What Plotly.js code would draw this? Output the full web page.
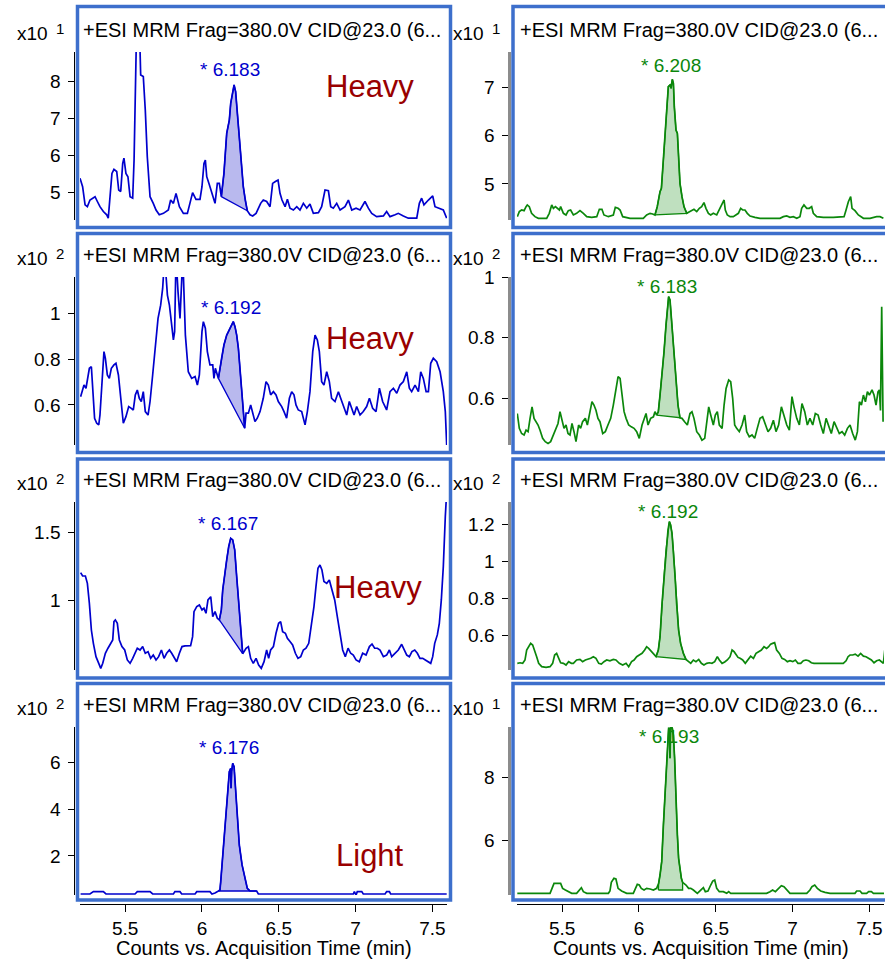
<!DOCTYPE html>
<html><head><meta charset="utf-8">
<script src="https://cdn.plot.ly/plotly-3.0.1.min.js"></script>
<style>html,body{margin:0;padding:0;background:#fff;}#chart{width:885px;height:960px;}</style>
</head><body><div id="chart"></div>
<script>
// ---------------- DATA (time in min, intensity in axis units x10^exp) ----------------
const tL1 = [5.206,5.223,5.239,5.254,5.271,5.288,5.304,5.319,5.336,5.358,
5.380,5.390,5.401,5.414,5.427,5.445,5.458,5.471,5.484,5.492,
5.505,5.518,5.532,5.549,5.558,5.571,5.575,5.592,5.601,5.618,
5.631,5.644,5.662,5.683,5.701,5.722,5.749,5.781,5.796,5.814,
5.831,5.853,5.879,5.905,5.926,5.939,5.961,5.987,6.000,6.013,
6.022,6.031,6.048,6.070,6.085,6.100,6.113,6.126,6.143,6.161,
6.178,6.187,6.198,6.209,6.219,6.230,6.243,6.256,6.269,6.282,
6.295,6.313,6.330,6.352,6.367,6.382,6.399,6.421,6.443,6.460,
6.478,6.495,6.508,6.521,6.541,6.556,6.573,6.595,6.617,6.638,
6.660,6.682,6.703,6.725,6.758,6.779,6.801,6.823,6.838,6.855,
6.877,6.899,6.931,6.953,6.975,7.003,7.029,7.061,7.083,7.105,
7.137,7.181,7.202,7.224,7.257,7.278,7.311,7.343,7.398,7.415,
7.430,7.445,7.474,7.502,7.517,7.539,7.571,7.593];
const iL1 = [5.39,5.16,4.67,4.62,4.80,4.85,4.89,4.76,4.62,4.49,
4.40,4.31,4.89,5.52,5.63,5.57,5.07,5.03,5.79,5.93,
5.52,5.43,4.89,4.85,5.88,8.41,9.6,9.6,8.18,8.14,
7.23,5.97,4.89,4.71,4.53,4.40,4.44,4.53,4.80,4.71,
4.98,4.62,4.44,4.44,4.80,5.00,4.82,4.82,5.16,5.79,
5.88,5.43,5.21,4.89,4.71,5.25,5.25,4.89,5.52,6.60,
6.96,7.41,7.68,7.91,7.73,7.14,6.42,5.70,5.16,4.80,
4.51,4.40,4.37,4.44,4.58,4.71,4.80,4.76,4.62,5.25,
5.30,5.34,4.98,4.80,4.62,4.82,4.58,4.53,4.62,4.53,
4.71,4.58,4.69,4.44,4.46,4.62,5.07,5.05,4.62,4.58,
4.71,4.53,4.62,4.80,4.53,4.58,4.53,4.76,4.58,4.44,
4.35,4.37,4.49,4.35,4.40,4.44,4.37,4.31,4.31,4.71,
4.85,4.67,4.80,4.91,4.62,4.58,4.53,4.31];
const baseTL1 = [6.126, 6.295], baseIL1 = [4.89, 4.51];

const tR1 = [5.208,5.221,5.236,5.252,5.265,5.273,5.286,5.301,5.323,5.345,
5.399,5.416,5.432,5.443,5.456,5.469,5.482,5.490,5.508,5.525,
5.540,5.555,5.573,5.594,5.616,5.638,5.660,5.692,5.725,5.742,
5.759,5.772,5.801,5.833,5.846,5.864,5.877,5.894,5.920,5.942,
5.985,6.028,6.050,6.072,6.089,6.104,6.119,6.137,6.146,6.159,
6.169,6.180,6.191,6.202,6.209,6.217,6.224,6.230,6.241,6.250,
6.258,6.267,6.280,6.293,6.311,6.328,6.343,6.358,6.376,6.393,
6.408,6.423,6.436,6.452,6.467,6.484,6.506,6.528,6.545,6.554,
6.562,6.575,6.593,6.614,6.647,6.662,6.675,6.690,6.705,6.723,
6.755,6.788,6.831,6.875,6.918,6.940,6.962,6.983,7.005,7.027,
7.048,7.059,7.074,7.092,7.109,7.124,7.135,7.157,7.200,7.265,
7.309,7.335,7.348,7.363,7.378,7.387,7.406,7.428,7.461,7.504,
7.547,7.569,7.591];
const iR1 = [4.324,4.428,4.462,4.448,4.531,4.566,4.531,4.393,4.324,4.290,
4.290,4.393,4.566,4.497,4.531,4.497,4.462,4.531,4.393,4.359,
4.448,4.462,4.359,4.393,4.448,4.393,4.324,4.310,4.324,4.476,
4.476,4.359,4.324,4.359,4.517,4.497,4.462,4.324,4.310,4.290,
4.290,4.290,4.359,4.393,4.379,4.359,4.531,4.841,4.910,5.497,
6.048,6.531,7.014,7.048,6.979,7.166,7.083,6.600,6.117,6.048,
5.566,5.014,4.738,4.531,4.393,4.428,4.448,4.476,4.428,4.497,
4.531,4.614,4.497,4.393,4.359,4.393,4.359,4.497,4.634,4.669,
4.462,4.359,4.324,4.324,4.393,4.497,4.462,4.462,4.393,4.338,
4.310,4.290,4.290,4.290,4.290,4.324,4.338,4.310,4.324,4.290,
4.324,4.497,4.566,4.497,4.497,4.531,4.393,4.324,4.310,4.310,
4.310,4.324,4.462,4.634,4.738,4.497,4.448,4.359,4.290,4.290,
4.324,4.324,4.290];
const baseTR1 = [6.104, 6.311], baseIR1 = [4.359, 4.393];

const tL2 = [5.210,5.223,5.232,5.245,5.254,5.267,5.280,5.288,5.301,5.315,
5.328,5.336,5.349,5.362,5.371,5.384,5.397,5.410,5.427,5.440,
5.456,5.471,5.488,5.505,5.523,5.540,5.553,5.566,5.579,5.592,
5.605,5.618,5.631,5.649,5.662,5.679,5.696,5.714,5.731,5.744,
5.757,5.775,5.788,5.801,5.814,5.822,5.831,5.844,5.857,5.875,
5.892,5.911,5.933,5.955,5.970,5.983,6.000,6.009,6.022,6.035,
6.052,6.070,6.078,6.087,6.096,6.107,6.128,6.143,6.161,6.183,
6.204,6.215,6.226,6.237,6.248,6.258,6.269,6.278,6.287,6.302,
6.317,6.330,6.345,6.360,6.378,6.399,6.417,6.432,6.447,6.465,
6.482,6.497,6.519,6.534,6.551,6.569,6.584,6.599,6.612,6.627,
6.649,6.671,6.686,6.703,6.721,6.736,6.751,6.764,6.779,6.794,
6.812,6.829,6.844,6.866,6.888,6.903,6.920,6.942,6.959,6.975,
6.990,7.007,7.029,7.050,7.072,7.090,7.111,7.133,7.155,7.176,
7.202,7.224,7.246,7.268,7.289,7.311,7.333,7.350,7.365,7.387,
7.409,7.424,7.441,7.459,7.474,7.489,7.506,7.528,7.550,7.571,
7.584,7.593];
const iL2 = [0.636,0.673,0.687,0.673,0.702,0.760,0.767,0.687,0.542,0.520,
0.513,0.556,0.687,0.833,0.804,0.731,0.716,0.760,0.775,0.782,
0.731,0.644,0.520,0.549,0.593,0.585,0.578,0.644,0.665,0.629,
0.615,0.658,0.571,0.556,0.615,0.731,0.862,0.978,1.036,1.109,
1.25,1.080,1.036,0.964,0.884,0.920,1.25,1.095,0.978,1.25,
0.905,0.745,0.716,0.724,0.687,0.731,0.920,0.964,0.935,0.833,
0.775,0.775,0.716,0.760,0.738,0.716,0.804,0.862,0.905,0.935,
0.964,0.942,0.905,0.847,0.760,0.687,0.564,0.498,0.564,0.564,
0.600,0.571,0.527,0.542,0.571,0.629,0.702,0.687,0.644,0.658,
0.644,0.615,0.593,0.571,0.542,0.629,0.658,0.644,0.600,0.578,
0.571,0.513,0.571,0.658,0.833,0.905,0.884,0.833,0.702,0.687,
0.745,0.702,0.629,0.615,0.658,0.629,0.600,0.556,0.615,0.585,
0.556,0.593,0.556,0.571,0.593,0.629,0.585,0.571,0.673,0.615,
0.578,0.658,0.673,0.651,0.687,0.702,0.745,0.673,0.658,0.687,
0.658,0.745,0.716,0.658,0.658,0.782,0.804,0.789,0.745,0.658,
0.571,0.425];
const baseTL2 = [6.107, 6.278], baseIL2 = [0.716, 0.498];

const tR2 = [5.208,5.221,5.236,5.252,5.265,5.278,5.291,5.304,5.317,5.330,
5.343,5.356,5.373,5.390,5.408,5.425,5.443,5.460,5.473,5.486,
5.499,5.512,5.525,5.538,5.551,5.564,5.577,5.590,5.607,5.620,
5.633,5.651,5.664,5.681,5.694,5.707,5.720,5.733,5.746,5.764,
5.781,5.798,5.816,5.833,5.850,5.864,5.877,5.890,5.903,5.916,
5.933,5.950,5.968,5.985,6.002,6.020,6.033,6.046,6.059,6.076,
6.094,6.104,6.115,6.126,6.137,6.150,6.163,6.176,6.185,6.193,
6.202,6.211,6.219,6.228,6.241,6.254,6.267,6.280,6.297,6.315,
6.332,6.345,6.358,6.376,6.393,6.410,6.428,6.441,6.454,6.467,
6.484,6.497,6.510,6.523,6.541,6.554,6.567,6.584,6.597,6.610,
6.623,6.636,6.653,6.671,6.688,6.701,6.718,6.736,6.753,6.770,
6.788,6.805,6.823,6.840,6.857,6.875,6.892,6.909,6.927,6.944,
6.962,6.979,6.996,7.009,7.027,7.044,7.061,7.079,7.096,7.113,
7.131,7.148,7.166,7.183,7.200,7.218,7.235,7.252,7.270,7.287,
7.304,7.322,7.339,7.357,7.374,7.391,7.408,7.422,7.435,7.448,
7.461,7.474,7.487,7.500,7.517,7.530,7.543,7.556,7.565,7.572,
7.580,7.589];
const iR2 = [0.550,0.501,0.484,0.479,0.495,0.490,0.534,0.572,0.534,0.523,
0.512,0.495,0.468,0.457,0.451,0.457,0.479,0.495,0.517,0.556,
0.523,0.501,0.512,0.484,0.479,0.517,0.490,0.457,0.512,0.501,
0.523,0.534,0.512,0.556,0.589,0.578,0.561,0.534,0.523,0.484,
0.490,0.512,0.534,0.578,0.633,0.672,0.666,0.600,0.556,0.534,
0.512,0.506,0.501,0.490,0.468,0.512,0.534,0.550,0.512,0.534,
0.539,0.556,0.545,0.556,0.611,0.677,0.754,0.842,0.909,0.936,
0.925,0.864,0.787,0.732,0.644,0.578,0.536,0.534,0.523,0.512,
0.550,0.556,0.534,0.490,0.479,0.462,0.468,0.512,0.572,0.545,
0.512,0.545,0.556,0.512,0.501,0.578,0.633,0.661,0.655,0.600,
0.512,0.501,0.490,0.512,0.545,0.490,0.473,0.479,0.468,0.501,
0.534,0.539,0.512,0.490,0.501,0.528,0.490,0.512,0.572,0.545,
0.512,0.495,0.606,0.572,0.534,0.512,0.583,0.556,0.512,0.534,
0.512,0.550,0.545,0.512,0.484,0.534,0.512,0.484,0.523,0.501,
0.484,0.490,0.479,0.501,0.512,0.484,0.462,0.490,0.589,0.578,
0.611,0.589,0.622,0.611,0.628,0.611,0.578,0.622,0.628,0.560,
0.903,0.523];
const baseTR2 = [6.115, 6.267], baseIR2 = [0.545, 0.536];

const tL3 = [5.210,5.223,5.241,5.254,5.267,5.280,5.293,5.310,5.328,5.341,
5.354,5.371,5.388,5.406,5.419,5.427,5.436,5.449,5.462,5.479,
5.497,5.514,5.532,5.549,5.564,5.579,5.597,5.614,5.631,5.649,
5.666,5.683,5.701,5.718,5.736,5.753,5.770,5.788,5.803,5.818,
5.835,5.853,5.870,5.890,5.911,5.926,5.939,5.948,5.966,5.983,
6.000,6.013,6.026,6.039,6.057,6.070,6.085,6.100,6.113,6.126,
6.135,6.148,6.161,6.174,6.187,6.200,6.213,6.226,6.239,6.252,
6.265,6.287,6.302,6.317,6.334,6.352,6.369,6.386,6.404,6.421,
6.434,6.447,6.465,6.482,6.499,6.512,6.525,6.543,6.556,6.573,
6.590,6.608,6.625,6.643,6.660,6.677,6.695,6.712,6.729,6.742,
6.755,6.768,6.781,6.794,6.812,6.829,6.847,6.864,6.881,6.899,
6.916,6.933,6.951,6.968,6.985,7.003,7.024,7.046,7.068,7.090,
7.107,7.124,7.142,7.159,7.181,7.202,7.220,7.235,7.257,7.278,
7.300,7.315,7.333,7.350,7.367,7.385,7.402,7.419,7.437,7.454,
7.472,7.489,7.502,7.515,7.532,7.545,7.558,7.571,7.584,7.593];
const iL3 = [1.206,1.181,1.181,1.127,0.980,0.784,0.686,0.588,0.539,0.502,
0.539,0.613,0.650,0.686,0.711,0.846,0.858,0.833,0.711,0.662,
0.637,0.564,0.539,0.576,0.613,0.650,0.637,0.662,0.613,0.625,
0.576,0.600,0.564,0.588,0.637,0.576,0.613,0.637,0.613,0.588,
0.551,0.613,0.662,0.667,0.667,0.669,0.735,0.919,0.956,0.968,
0.931,0.944,0.907,1.005,1.029,0.882,0.919,0.870,0.858,0.931,
1.078,1.201,1.299,1.397,1.458,1.446,1.373,1.176,1.005,0.809,
0.610,0.650,0.662,0.576,0.539,0.576,0.527,0.502,0.551,0.637,
0.576,0.637,0.662,0.760,0.833,0.846,0.772,0.760,0.723,0.699,
0.674,0.613,0.576,0.588,0.637,0.650,0.686,0.821,0.956,1.103,
1.238,1.262,1.225,1.140,1.127,1.152,1.078,1.005,0.882,0.760,
0.637,0.588,0.650,0.613,0.600,0.564,0.551,0.613,0.600,0.662,
0.681,0.650,0.650,0.637,0.588,0.600,0.637,0.588,0.613,0.637,
0.679,0.637,0.600,0.588,0.625,0.637,0.613,0.576,0.576,0.564,
0.551,0.539,0.588,0.686,0.748,0.833,1.005,1.250,1.618,1.80];
const baseTL3 = [6.113, 6.265], baseIL3 = [0.858, 0.610];

const tR3 = [5.208,5.226,5.243,5.258,5.269,5.282,5.295,5.308,5.321,5.334,
5.347,5.367,5.395,5.421,5.438,5.451,5.464,5.477,5.490,5.508,
5.525,5.542,5.560,5.573,5.594,5.616,5.633,5.651,5.668,5.686,
5.703,5.720,5.738,5.755,5.772,5.790,5.811,5.833,5.850,5.872,
5.894,5.916,5.933,5.952,5.968,5.985,6.002,6.020,6.037,6.050,
6.063,6.081,6.098,6.111,6.126,6.137,6.150,6.163,6.176,6.189,
6.198,6.206,6.215,6.224,6.235,6.245,6.258,6.271,6.289,6.306,
6.321,6.337,6.354,6.371,6.389,6.406,6.423,6.441,6.458,6.475,
6.493,6.510,6.523,6.541,6.558,6.575,6.593,6.606,6.619,6.632,
6.645,6.658,6.675,6.692,6.710,6.727,6.745,6.762,6.779,6.797,
6.814,6.831,6.844,6.857,6.870,6.883,6.896,6.914,6.931,6.948,
6.966,6.983,7.001,7.018,7.035,7.053,7.070,7.087,7.105,7.122,
7.139,7.157,7.179,7.200,7.222,7.244,7.265,7.287,7.309,7.330,
7.348,7.361,7.374,7.391,7.408,7.426,7.443,7.461,7.478,7.495,
7.513,7.530,7.547,7.565,7.582,7.591,7.600];
const iR3 = [0.447,0.450,0.447,0.465,0.519,0.537,0.555,0.546,0.519,0.483,
0.447,0.429,0.425,0.429,0.447,0.492,0.501,0.474,0.450,0.447,
0.438,0.456,0.447,0.447,0.465,0.468,0.456,0.465,0.468,0.474,
0.483,0.474,0.447,0.443,0.456,0.465,0.461,0.468,0.465,0.447,
0.438,0.447,0.429,0.456,0.465,0.483,0.492,0.501,0.519,0.537,
0.528,0.510,0.492,0.483,0.519,0.591,0.771,0.915,1.059,1.168,
1.213,1.195,1.150,1.059,0.915,0.771,0.627,0.555,0.501,0.468,
0.456,0.447,0.465,0.456,0.468,0.447,0.438,0.447,0.450,0.447,
0.456,0.483,0.465,0.447,0.454,0.465,0.483,0.519,0.510,0.492,
0.479,0.474,0.465,0.447,0.468,0.486,0.474,0.501,0.510,0.519,
0.537,0.528,0.537,0.551,0.555,0.559,0.519,0.501,0.474,0.468,
0.456,0.461,0.456,0.465,0.447,0.447,0.461,0.465,0.461,0.450,
0.447,0.447,0.450,0.447,0.447,0.450,0.447,0.447,0.447,0.447,
0.461,0.483,0.492,0.492,0.497,0.486,0.501,0.486,0.483,0.474,
0.465,0.450,0.461,0.465,0.456,0.447,0.519];
const baseTR3 = [6.111, 6.306], baseIR3 = [0.483, 0.468];

const tL4 = [5.210,5.271,5.293,5.358,5.375,5.564,5.579,5.662,5.679,5.814,
5.824,5.857,5.868,5.955,5.966,6.052,6.065,6.085,6.107,6.117,
6.122,6.135,6.150,6.165,6.178,6.187,6.189,6.193,6.200,6.209,
6.217,6.230,6.243,6.261,6.278,6.295,6.313,6.334,6.356,6.367,
6.985,6.992,7.003,7.011,7.040,7.050,7.192,7.202,7.220,7.228,
7.593];
const iL4 = [0.377,0.377,0.477,0.477,0.377,0.377,0.477,0.477,0.377,0.377,
0.477,0.477,0.377,0.377,0.477,0.477,0.377,0.42,0.505,0.548,
0.904,2.04,3.47,4.60,5.60,5.74,4.89,5.60,5.96,5.81,
5.03,3.75,2.47,1.62,1.05,0.62,0.505,0.505,0.505,0.377,
0.377,0.477,0.33,0.477,0.477,0.377,0.377,0.477,0.477,0.377,
0.377];
const baseTL4 = [6.107, 6.356], baseIL4 = [0.505, 0.505];

const tR4 = [5.208,5.421,5.434,5.447,5.490,5.503,5.521,5.540,5.562,5.594,
5.612,5.625,5.638,5.660,5.801,5.811,5.820,5.837,5.850,5.864,
5.887,5.920,5.963,5.976,5.989,6.002,6.015,6.033,6.050,6.072,
6.094,6.115,6.128,6.137,6.148,6.159,6.172,6.185,6.193,6.198,
6.202,6.206,6.211,6.217,6.224,6.232,6.241,6.250,6.258,6.267,
6.276,6.284,6.293,6.306,6.323,6.337,6.354,6.367,6.380,6.402,
6.419,6.432,6.449,6.467,6.480,6.493,6.506,6.523,6.549,6.571,
6.584,6.597,6.831,6.853,6.870,6.888,6.909,6.927,6.944,6.962,
6.983,7.092,7.113,7.126,7.144,7.161,7.183,7.211,7.244,7.406,
7.417,7.439,7.452,7.482,7.495,7.513,7.526,7.602];
const iR4 = [4.298,4.298,4.457,4.617,4.617,4.457,4.404,4.351,4.298,4.298,
4.404,4.479,4.351,4.298,4.298,4.372,4.649,4.777,4.755,4.457,
4.372,4.298,4.298,4.457,4.585,4.564,4.457,4.404,4.457,4.436,
4.404,4.457,4.617,4.883,5.309,6.479,7.543,8.606,9.564,9.564,
8.606,9.564,9.617,9.564,9.351,8.606,7.223,6.160,5.415,4.989,
4.777,4.649,4.617,4.564,4.457,4.457,4.404,4.351,4.298,4.404,
4.479,4.351,4.372,4.564,4.691,4.723,4.457,4.351,4.351,4.298,
4.351,4.298,4.298,4.351,4.404,4.351,4.457,4.543,4.511,4.404,
4.298,4.298,4.404,4.511,4.564,4.457,4.372,4.330,4.298,4.298,
4.372,4.372,4.298,4.298,4.351,4.351,4.298,4.298];
const baseTR4 = [6.126, 6.284], baseIR4 = [4.404, 4.404];

// panel order: row-major (left = blue, right = green)
const retentionTimes = [6.183, 6.208, 6.192, 6.183, 6.167, 6.192, 6.176, 6.193];
const exponents = [1, 1, 2, 2, 2, 2, 2, 1];
const yTicks = [[5,6,7,8],[5,6,7],[0.6,0.8,1],[0.6,0.8,1],[1,1.5],[0.6,0.8,1,1.2],[2,4,6],[6,8]];
const xTicks = [5.5, 6, 6.5, 7, 7.5];
const isotopeLabels = ['Heavy', 'Heavy', 'Heavy', 'Light'];
const headerText = '+ESI MRM Frag=380.0V CID@23.0 (6...';
const xTitle = 'Counts vs. Acquisition Time (min)';

// ---------------- LAYOUT / STYLE ----------------
const W = 885, H = 960;
const fx = p => p / W, fy = p => 1 - p / H;
const FONT = 'Liberation Sans, Arial, Helvetica, sans-serif';
const BLUE = '#0000cd', GREEN = '#0b870b';
const FILL_BLUE = '#b9b9ee', FILL_GREEN = '#bfe0bf';
const FRAME = '#3d6fcc', LABEL_RED = '#990000';

const series = [
  [tL1, iL1, baseTL1, baseIL1], [tR1, iR1, baseTR1, baseIR1],
  [tL2, iL2, baseTL2, baseIL2], [tR2, iR2, baseTR2, baseIR2],
  [tL3, iL3, baseTL3, baseIL3], [tR3, iR3, baseTR3, baseIR3],
  [tL4, iL4, baseTL4, baseIL4], [tR4, iR4, baseTR4, baseIR4]
];
const yRanges = [[4.26,8.80],[4.255,7.731],[0.425,1.159],[0.446,1.001],
                 [0.490,1.725],[0.411,1.319],[0.334,7.509],[4.245,9.606]];
const xRange = [5.206, 7.595];
const colX = [[80, 447], [517, 884]];
const yAxisPos = [74.3, 509.3];
const frameX = [[77.5, 450.5], [513, 893]];
const frameY = [[6.5, 227.5], [233.5, 452.5], [459, 678], [683.5, 900]];
const peakLabelY = [70, 65, 307.5, 286.5, 523, 511, 747.5, 736];
const isoPos = [[370, 86], [370, 338], [378, 587], [370, 855]];

const traces = [];
const layout = {
  width: W, height: H, margin: {l: 0, r: 0, t: 0, b: 0},
  paper_bgcolor: '#fff', plot_bgcolor: 'rgba(0,0,0,0)', showlegend: false,
  font: {family: FONT, color: '#000'},
  annotations: [], shapes: []
};

for (let i = 0; i < 8; i++) {
  const r = Math.floor(i / 2), c = i % 2, n = i + 1;
  const xa = 'x' + (n === 1 ? '' : n), ya = 'y' + (n === 1 ? '' : n);
  const col = c === 0 ? BLUE : GREEN, fillc = c === 0 ? FILL_BLUE : FILL_GREEN;
  const [t, v, bt, bv] = series[i];
  // integrated peak polygon
  const px = [bt[0]], pyv = [bv[0]];
  for (let k = 0; k < t.length; k++) {
    if (t[k] >= bt[0] && t[k] <= bt[1]) { px.push(t[k]); pyv.push(v[k]); }
  }
  px.push(bt[1]); pyv.push(bv[1]); px.push(bt[0]); pyv.push(bv[0]);
  traces.push({x: px, y: pyv, xaxis: xa, yaxis: ya, type: 'scatter', mode: 'lines',
    fill: 'toself', fillcolor: fillc, line: {color: col, width: 1.3}, hoverinfo: 'skip'});
  traces.push({x: t, y: v, xaxis: xa, yaxis: ya, type: 'scatter', mode: 'lines',
    line: {color: col, width: 1.7}, hoverinfo: 'skip'});

  const top = 52 + 225 * r, bot = 220 + 225 * r;
  const xKey = 'xaxis' + (n === 1 ? '' : n), yKey = 'yaxis' + (n === 1 ? '' : n);
  const xaxis = {domain: [fx(colX[c][0]), fx(colX[c][1])], range: xRange, anchor: ya,
    showgrid: false, zeroline: false, fixedrange: true};
  if (r === 3) {
    Object.assign(xaxis, {anchor: 'free', position: fy(903.5), showline: true, linecolor: '#000',
      linewidth: 1.5, ticks: 'outside', ticklen: 7, tickwidth: 1, tickcolor: '#000',
      tickmode: 'array', tickvals: xTicks, ticktext: xTicks.map(String),
      tickfont: {size: 19, family: FONT, color: '#000'}});
  } else {
    Object.assign(xaxis, {visible: false});
  }
  layout[xKey] = xaxis;
  layout[yKey] = {domain: [fy(bot), fy(top)], range: yRanges[i], anchor: 'free',
    position: fx(yAxisPos[c]), showgrid: false, zeroline: false, showline: true,
    linecolor: c === 0 ? '#000' : '#8c8c8c', linewidth: c === 0 ? 1 : 2.5,
    ticks: 'outside', ticklen: 6, tickwidth: 1, tickcolor: '#000',
    tickmode: 'array', tickvals: yTicks[i], ticktext: yTicks[i].map(String),
    ticklabelstandoff: 4,
    tickfont: {size: 19, family: FONT, color: '#000'}, fixedrange: true};

  // frame
  layout.shapes.push({type: 'rect', xref: 'paper', yref: 'paper', layer: 'above',
    x0: fx(frameX[c][0]), x1: fx(frameX[c][1]), y0: fy(frameY[r][1]), y1: fy(frameY[r][0]),
    line: {color: FRAME, width: 3.5}, fillcolor: 'rgba(0,0,0,0)'});
  // header
  layout.annotations.push({xref: 'paper', yref: 'paper', x: fx(c === 0 ? 81 : 518),
    y: fy(30 + 225 * r), xanchor: 'left', yanchor: 'middle', showarrow: false,
    text: headerText, font: {size: 20, family: FONT, color: '#000'}});
  // exponent label
  layout.annotations.push({xref: 'paper', yref: 'paper', x: fx(c === 0 ? 15 : 451),
    y: fy(33.5 + 225 * r), xanchor: 'left', yanchor: 'middle', showarrow: false,
    text: 'x10', font: {size: 19, family: FONT, color: '#000'}});
  layout.annotations.push({xref: 'paper', yref: 'paper', x: fx(c === 0 ? 54 : 490),
    y: fy(28 + 225 * r), xanchor: 'left', yanchor: 'middle', showarrow: false,
    text: String(exponents[i]), font: {size: 15, family: FONT, color: '#000'}});
  // retention time label
  layout.annotations.push({xref: xa, yref: 'paper', x: retentionTimes[i],
    y: fy(peakLabelY[i]), xanchor: 'center', yanchor: 'middle', showarrow: false,
    text: '* ' + retentionTimes[i].toFixed(3), font: {size: 19, family: FONT, color: col}});
  // isotope label
  if (c === 0) {
    layout.annotations.push({xref: 'paper', yref: 'paper', x: fx(isoPos[r][0]),
      y: fy(isoPos[r][1]), xanchor: 'center', yanchor: 'middle', showarrow: false,
      text: isotopeLabels[r], font: {size: 31, family: FONT, color: LABEL_RED}});
  }
  if (r === 3) {
    layout.annotations.push({xref: 'paper', yref: 'paper',
      x: fx((colX[c][0] + colX[c][1]) / 2), y: fy(948), xanchor: 'center', yanchor: 'middle',
      showarrow: false, text: xTitle, font: {size: 20, family: FONT, color: '#000'}});
  }
}

Plotly.newPlot('chart', traces, layout, {staticPlot: true, displayModeBar: false});
</script></body></html>
